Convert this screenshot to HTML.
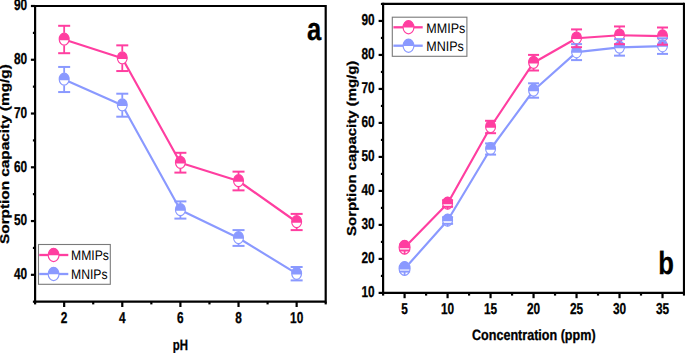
<!DOCTYPE html><html><head><meta charset="utf-8"><style>html,body{margin:0;padding:0;background:#fff;}svg{display:block;}text{font-family:"Liberation Sans",sans-serif;text-rendering:geometricPrecision;}</style></head><body>
<svg width="685" height="353" viewBox="0 0 685 353">
<rect width="685" height="353" fill="#fff"/>
<polyline points="64.16,79.50 122.28,105.20 180.40,210.00 238.52,238.00 296.64,273.70" fill="none" stroke="#8A99FF" stroke-width="2.15" stroke-linejoin="round"/>
<polyline points="64.16,39.50 122.28,58.20 180.40,162.70 238.52,181.00 296.64,222.00" fill="none" stroke="#FF3EA0" stroke-width="2.15" stroke-linejoin="round"/>
<ellipse cx="64.16" cy="39.15" rx="4.95" ry="6.0" fill="#fff"/>
<path d="M59.29,40.25 A4.95,6.0 0 1 1 69.03,40.25 Z" fill="#FF3EA0"/>
<ellipse cx="64.16" cy="39.15" rx="4.95" ry="6.0" fill="none" stroke="#FF3EA0" stroke-width="1.15"/>
<ellipse cx="122.28" cy="57.85" rx="4.95" ry="6.0" fill="#fff"/>
<path d="M117.41,58.95 A4.95,6.0 0 1 1 127.15,58.95 Z" fill="#FF3EA0"/>
<ellipse cx="122.28" cy="57.85" rx="4.95" ry="6.0" fill="none" stroke="#FF3EA0" stroke-width="1.15"/>
<ellipse cx="180.40" cy="162.35" rx="4.95" ry="6.0" fill="#fff"/>
<path d="M175.53,163.45 A4.95,6.0 0 1 1 185.27,163.45 Z" fill="#FF3EA0"/>
<ellipse cx="180.40" cy="162.35" rx="4.95" ry="6.0" fill="none" stroke="#FF3EA0" stroke-width="1.15"/>
<ellipse cx="238.52" cy="180.65" rx="4.95" ry="6.0" fill="#fff"/>
<path d="M233.65,181.75 A4.95,6.0 0 1 1 243.39,181.75 Z" fill="#FF3EA0"/>
<ellipse cx="238.52" cy="180.65" rx="4.95" ry="6.0" fill="none" stroke="#FF3EA0" stroke-width="1.15"/>
<ellipse cx="296.64" cy="221.65" rx="4.95" ry="6.0" fill="#fff"/>
<path d="M291.77,222.75 A4.95,6.0 0 1 1 301.51,222.75 Z" fill="#FF3EA0"/>
<ellipse cx="296.64" cy="221.65" rx="4.95" ry="6.0" fill="none" stroke="#FF3EA0" stroke-width="1.15"/>
<ellipse cx="64.16" cy="79.15" rx="4.95" ry="6.0" fill="#fff"/>
<path d="M59.29,80.25 A4.95,6.0 0 1 1 69.03,80.25 Z" fill="#8A99FF"/>
<ellipse cx="64.16" cy="79.15" rx="4.95" ry="6.0" fill="none" stroke="#8A99FF" stroke-width="1.15"/>
<ellipse cx="122.28" cy="104.85" rx="4.95" ry="6.0" fill="#fff"/>
<path d="M117.41,105.95 A4.95,6.0 0 1 1 127.15,105.95 Z" fill="#8A99FF"/>
<ellipse cx="122.28" cy="104.85" rx="4.95" ry="6.0" fill="none" stroke="#8A99FF" stroke-width="1.15"/>
<ellipse cx="180.40" cy="209.65" rx="4.95" ry="6.0" fill="#fff"/>
<path d="M175.53,210.75 A4.95,6.0 0 1 1 185.27,210.75 Z" fill="#8A99FF"/>
<ellipse cx="180.40" cy="209.65" rx="4.95" ry="6.0" fill="none" stroke="#8A99FF" stroke-width="1.15"/>
<ellipse cx="238.52" cy="237.65" rx="4.95" ry="6.0" fill="#fff"/>
<path d="M233.65,238.75 A4.95,6.0 0 1 1 243.39,238.75 Z" fill="#8A99FF"/>
<ellipse cx="238.52" cy="237.65" rx="4.95" ry="6.0" fill="none" stroke="#8A99FF" stroke-width="1.15"/>
<ellipse cx="296.64" cy="273.35" rx="4.95" ry="6.0" fill="#fff"/>
<path d="M291.77,274.45 A4.95,6.0 0 1 1 301.51,274.45 Z" fill="#8A99FF"/>
<ellipse cx="296.64" cy="273.35" rx="4.95" ry="6.0" fill="none" stroke="#8A99FF" stroke-width="1.15"/>
<line x1="64.16" y1="66.95" x2="64.16" y2="72.88" stroke="#8A99FF" stroke-width="1.8" stroke-linecap="butt"/>
<line x1="64.16" y1="92.05" x2="64.16" y2="85.43" stroke="#8A99FF" stroke-width="1.8" stroke-linecap="butt"/>
<line x1="58.16" y1="66.95" x2="70.16" y2="66.95" stroke="#8A99FF" stroke-width="2.0" stroke-linecap="butt"/>
<line x1="58.16" y1="92.05" x2="70.16" y2="92.05" stroke="#8A99FF" stroke-width="2.0" stroke-linecap="butt"/>
<line x1="122.28" y1="93.70" x2="122.28" y2="98.58" stroke="#8A99FF" stroke-width="1.8" stroke-linecap="butt"/>
<line x1="122.28" y1="116.70" x2="122.28" y2="111.13" stroke="#8A99FF" stroke-width="1.8" stroke-linecap="butt"/>
<line x1="116.28" y1="93.70" x2="128.28" y2="93.70" stroke="#8A99FF" stroke-width="2.0" stroke-linecap="butt"/>
<line x1="116.28" y1="116.70" x2="128.28" y2="116.70" stroke="#8A99FF" stroke-width="2.0" stroke-linecap="butt"/>
<line x1="180.40" y1="201.40" x2="180.40" y2="203.38" stroke="#8A99FF" stroke-width="1.8" stroke-linecap="butt"/>
<line x1="180.40" y1="218.60" x2="180.40" y2="215.92" stroke="#8A99FF" stroke-width="1.8" stroke-linecap="butt"/>
<line x1="174.40" y1="201.40" x2="186.40" y2="201.40" stroke="#8A99FF" stroke-width="2.0" stroke-linecap="butt"/>
<line x1="174.40" y1="218.60" x2="186.40" y2="218.60" stroke="#8A99FF" stroke-width="2.0" stroke-linecap="butt"/>
<line x1="238.52" y1="230.10" x2="238.52" y2="231.38" stroke="#8A99FF" stroke-width="1.8" stroke-linecap="butt"/>
<line x1="238.52" y1="245.90" x2="238.52" y2="243.92" stroke="#8A99FF" stroke-width="1.8" stroke-linecap="butt"/>
<line x1="232.52" y1="230.10" x2="244.52" y2="230.10" stroke="#8A99FF" stroke-width="2.0" stroke-linecap="butt"/>
<line x1="232.52" y1="245.90" x2="244.52" y2="245.90" stroke="#8A99FF" stroke-width="2.0" stroke-linecap="butt"/>
<line x1="296.64" y1="267.00" x2="296.64" y2="267.07" stroke="#8A99FF" stroke-width="1.8" stroke-linecap="butt"/>
<line x1="296.64" y1="280.40" x2="296.64" y2="279.62" stroke="#8A99FF" stroke-width="1.8" stroke-linecap="butt"/>
<line x1="290.64" y1="267.00" x2="302.64" y2="267.00" stroke="#8A99FF" stroke-width="2.0" stroke-linecap="butt"/>
<line x1="290.64" y1="280.40" x2="302.64" y2="280.40" stroke="#8A99FF" stroke-width="2.0" stroke-linecap="butt"/>
<line x1="64.16" y1="25.80" x2="64.16" y2="32.87" stroke="#FF3EA0" stroke-width="1.8" stroke-linecap="butt"/>
<line x1="64.16" y1="53.20" x2="64.16" y2="45.43" stroke="#FF3EA0" stroke-width="1.8" stroke-linecap="butt"/>
<line x1="58.16" y1="25.80" x2="70.16" y2="25.80" stroke="#FF3EA0" stroke-width="2.0" stroke-linecap="butt"/>
<line x1="58.16" y1="53.20" x2="70.16" y2="53.20" stroke="#FF3EA0" stroke-width="2.0" stroke-linecap="butt"/>
<line x1="122.28" y1="45.35" x2="122.28" y2="51.57" stroke="#FF3EA0" stroke-width="1.8" stroke-linecap="butt"/>
<line x1="122.28" y1="71.05" x2="122.28" y2="64.12" stroke="#FF3EA0" stroke-width="1.8" stroke-linecap="butt"/>
<line x1="116.28" y1="45.35" x2="128.28" y2="45.35" stroke="#FF3EA0" stroke-width="2.0" stroke-linecap="butt"/>
<line x1="116.28" y1="71.05" x2="128.28" y2="71.05" stroke="#FF3EA0" stroke-width="2.0" stroke-linecap="butt"/>
<line x1="180.40" y1="152.80" x2="180.40" y2="156.08" stroke="#FF3EA0" stroke-width="1.8" stroke-linecap="butt"/>
<line x1="180.40" y1="172.60" x2="180.40" y2="168.62" stroke="#FF3EA0" stroke-width="1.8" stroke-linecap="butt"/>
<line x1="174.40" y1="152.80" x2="186.40" y2="152.80" stroke="#FF3EA0" stroke-width="2.0" stroke-linecap="butt"/>
<line x1="174.40" y1="172.60" x2="186.40" y2="172.60" stroke="#FF3EA0" stroke-width="2.0" stroke-linecap="butt"/>
<line x1="238.52" y1="171.65" x2="238.52" y2="174.38" stroke="#FF3EA0" stroke-width="1.8" stroke-linecap="butt"/>
<line x1="238.52" y1="190.35" x2="238.52" y2="186.92" stroke="#FF3EA0" stroke-width="1.8" stroke-linecap="butt"/>
<line x1="232.52" y1="171.65" x2="244.52" y2="171.65" stroke="#FF3EA0" stroke-width="2.0" stroke-linecap="butt"/>
<line x1="232.52" y1="190.35" x2="244.52" y2="190.35" stroke="#FF3EA0" stroke-width="2.0" stroke-linecap="butt"/>
<line x1="296.64" y1="213.90" x2="296.64" y2="215.38" stroke="#FF3EA0" stroke-width="1.8" stroke-linecap="butt"/>
<line x1="296.64" y1="230.10" x2="296.64" y2="227.92" stroke="#FF3EA0" stroke-width="1.8" stroke-linecap="butt"/>
<line x1="290.64" y1="213.90" x2="302.64" y2="213.90" stroke="#FF3EA0" stroke-width="2.0" stroke-linecap="butt"/>
<line x1="290.64" y1="230.10" x2="302.64" y2="230.10" stroke="#FF3EA0" stroke-width="2.0" stroke-linecap="butt"/>
<polyline points="404.59,268.80 447.58,220.50 490.56,149.00 533.55,90.50 576.54,52.10 619.52,47.40 662.51,46.10" fill="none" stroke="#8A99FF" stroke-width="2.15" stroke-linejoin="round"/>
<polyline points="404.59,247.50 447.58,203.50 490.56,127.00 533.55,62.70 576.54,38.30 619.52,35.30 662.51,36.10" fill="none" stroke="#FF3EA0" stroke-width="2.15" stroke-linejoin="round"/>
<ellipse cx="404.59" cy="247.15" rx="5.5" ry="6.9" fill="#fff"/>
<path d="M399.16,248.25 A5.5,6.9 0 1 1 410.02,248.25 Z" fill="#FF3EA0"/>
<ellipse cx="404.59" cy="247.15" rx="5.5" ry="6.9" fill="none" stroke="#FF3EA0" stroke-width="1.15"/>
<ellipse cx="447.58" cy="203.15" rx="4.95" ry="6.0" fill="#fff"/>
<path d="M442.71,204.25 A4.95,6.0 0 1 1 452.44,204.25 Z" fill="#FF3EA0"/>
<ellipse cx="447.58" cy="203.15" rx="4.95" ry="6.0" fill="none" stroke="#FF3EA0" stroke-width="1.15"/>
<ellipse cx="490.56" cy="126.65" rx="4.95" ry="6.0" fill="#fff"/>
<path d="M485.70,127.75 A4.95,6.0 0 1 1 495.43,127.75 Z" fill="#FF3EA0"/>
<ellipse cx="490.56" cy="126.65" rx="4.95" ry="6.0" fill="none" stroke="#FF3EA0" stroke-width="1.15"/>
<ellipse cx="533.55" cy="62.35" rx="4.95" ry="6.0" fill="#fff"/>
<path d="M528.68,63.45 A4.95,6.0 0 1 1 538.42,63.45 Z" fill="#FF3EA0"/>
<ellipse cx="533.55" cy="62.35" rx="4.95" ry="6.0" fill="none" stroke="#FF3EA0" stroke-width="1.15"/>
<ellipse cx="576.54" cy="37.95" rx="4.95" ry="6.0" fill="#fff"/>
<path d="M571.67,39.05 A4.95,6.0 0 1 1 581.40,39.05 Z" fill="#FF3EA0"/>
<ellipse cx="576.54" cy="37.95" rx="4.95" ry="6.0" fill="none" stroke="#FF3EA0" stroke-width="1.15"/>
<ellipse cx="619.52" cy="34.95" rx="4.95" ry="6.0" fill="#fff"/>
<path d="M614.66,36.05 A4.95,6.0 0 1 1 624.39,36.05 Z" fill="#FF3EA0"/>
<ellipse cx="619.52" cy="34.95" rx="4.95" ry="6.0" fill="none" stroke="#FF3EA0" stroke-width="1.15"/>
<ellipse cx="662.51" cy="35.75" rx="4.95" ry="6.0" fill="#fff"/>
<path d="M657.64,36.85 A4.95,6.0 0 1 1 667.37,36.85 Z" fill="#FF3EA0"/>
<ellipse cx="662.51" cy="35.75" rx="4.95" ry="6.0" fill="none" stroke="#FF3EA0" stroke-width="1.15"/>
<ellipse cx="404.59" cy="268.45" rx="5.5" ry="6.9" fill="#fff"/>
<path d="M399.16,269.55 A5.5,6.9 0 1 1 410.02,269.55 Z" fill="#8A99FF"/>
<ellipse cx="404.59" cy="268.45" rx="5.5" ry="6.9" fill="none" stroke="#8A99FF" stroke-width="1.15"/>
<ellipse cx="447.58" cy="220.15" rx="4.95" ry="6.0" fill="#fff"/>
<path d="M442.71,221.25 A4.95,6.0 0 1 1 452.44,221.25 Z" fill="#8A99FF"/>
<ellipse cx="447.58" cy="220.15" rx="4.95" ry="6.0" fill="none" stroke="#8A99FF" stroke-width="1.15"/>
<ellipse cx="490.56" cy="148.65" rx="4.95" ry="6.0" fill="#fff"/>
<path d="M485.70,149.75 A4.95,6.0 0 1 1 495.43,149.75 Z" fill="#8A99FF"/>
<ellipse cx="490.56" cy="148.65" rx="4.95" ry="6.0" fill="none" stroke="#8A99FF" stroke-width="1.15"/>
<ellipse cx="533.55" cy="90.15" rx="4.95" ry="6.0" fill="#fff"/>
<path d="M528.68,91.25 A4.95,6.0 0 1 1 538.42,91.25 Z" fill="#8A99FF"/>
<ellipse cx="533.55" cy="90.15" rx="4.95" ry="6.0" fill="none" stroke="#8A99FF" stroke-width="1.15"/>
<ellipse cx="576.54" cy="51.75" rx="4.95" ry="6.0" fill="#fff"/>
<path d="M571.67,52.85 A4.95,6.0 0 1 1 581.40,52.85 Z" fill="#8A99FF"/>
<ellipse cx="576.54" cy="51.75" rx="4.95" ry="6.0" fill="none" stroke="#8A99FF" stroke-width="1.15"/>
<ellipse cx="619.52" cy="47.05" rx="4.95" ry="6.0" fill="#fff"/>
<path d="M614.66,48.15 A4.95,6.0 0 1 1 624.39,48.15 Z" fill="#8A99FF"/>
<ellipse cx="619.52" cy="47.05" rx="4.95" ry="6.0" fill="none" stroke="#8A99FF" stroke-width="1.15"/>
<ellipse cx="662.51" cy="45.75" rx="4.95" ry="6.0" fill="#fff"/>
<path d="M657.64,46.85 A4.95,6.0 0 1 1 667.37,46.85 Z" fill="#8A99FF"/>
<ellipse cx="662.51" cy="45.75" rx="4.95" ry="6.0" fill="none" stroke="#8A99FF" stroke-width="1.15"/>
<line x1="404.59" y1="266.00" x2="404.59" y2="261.28" stroke="#8A99FF" stroke-width="1.8" stroke-linecap="butt"/>
<line x1="404.59" y1="271.60" x2="404.59" y2="275.62" stroke="#8A99FF" stroke-width="1.8" stroke-linecap="butt"/>
<line x1="399.09" y1="266.00" x2="410.09" y2="266.00" stroke="#8A99FF" stroke-width="2.0" stroke-linecap="butt"/>
<line x1="399.09" y1="271.60" x2="410.09" y2="271.60" stroke="#8A99FF" stroke-width="2.0" stroke-linecap="butt"/>
<line x1="447.58" y1="217.20" x2="447.58" y2="213.88" stroke="#8A99FF" stroke-width="1.8" stroke-linecap="butt"/>
<line x1="447.58" y1="223.80" x2="447.58" y2="226.42" stroke="#8A99FF" stroke-width="1.8" stroke-linecap="butt"/>
<line x1="442.08" y1="217.20" x2="453.08" y2="217.20" stroke="#8A99FF" stroke-width="2.0" stroke-linecap="butt"/>
<line x1="442.08" y1="223.80" x2="453.08" y2="223.80" stroke="#8A99FF" stroke-width="2.0" stroke-linecap="butt"/>
<line x1="490.56" y1="143.40" x2="490.56" y2="142.38" stroke="#8A99FF" stroke-width="1.8" stroke-linecap="butt"/>
<line x1="490.56" y1="154.60" x2="490.56" y2="154.92" stroke="#8A99FF" stroke-width="1.8" stroke-linecap="butt"/>
<line x1="485.06" y1="143.40" x2="496.06" y2="143.40" stroke="#8A99FF" stroke-width="2.0" stroke-linecap="butt"/>
<line x1="485.06" y1="154.60" x2="496.06" y2="154.60" stroke="#8A99FF" stroke-width="2.0" stroke-linecap="butt"/>
<line x1="533.55" y1="83.30" x2="533.55" y2="83.88" stroke="#8A99FF" stroke-width="1.8" stroke-linecap="butt"/>
<line x1="533.55" y1="97.70" x2="533.55" y2="96.43" stroke="#8A99FF" stroke-width="1.8" stroke-linecap="butt"/>
<line x1="528.05" y1="83.30" x2="539.05" y2="83.30" stroke="#8A99FF" stroke-width="2.0" stroke-linecap="butt"/>
<line x1="528.05" y1="97.70" x2="539.05" y2="97.70" stroke="#8A99FF" stroke-width="2.0" stroke-linecap="butt"/>
<line x1="576.54" y1="44.10" x2="576.54" y2="45.47" stroke="#8A99FF" stroke-width="1.8" stroke-linecap="butt"/>
<line x1="576.54" y1="60.10" x2="576.54" y2="58.03" stroke="#8A99FF" stroke-width="1.8" stroke-linecap="butt"/>
<line x1="571.04" y1="44.10" x2="582.04" y2="44.10" stroke="#8A99FF" stroke-width="2.0" stroke-linecap="butt"/>
<line x1="571.04" y1="60.10" x2="582.04" y2="60.10" stroke="#8A99FF" stroke-width="2.0" stroke-linecap="butt"/>
<line x1="619.52" y1="39.15" x2="619.52" y2="40.77" stroke="#8A99FF" stroke-width="1.8" stroke-linecap="butt"/>
<line x1="619.52" y1="55.65" x2="619.52" y2="53.33" stroke="#8A99FF" stroke-width="1.8" stroke-linecap="butt"/>
<line x1="614.02" y1="39.15" x2="625.02" y2="39.15" stroke="#8A99FF" stroke-width="2.0" stroke-linecap="butt"/>
<line x1="614.02" y1="55.65" x2="625.02" y2="55.65" stroke="#8A99FF" stroke-width="2.0" stroke-linecap="butt"/>
<line x1="662.51" y1="38.30" x2="662.51" y2="39.47" stroke="#8A99FF" stroke-width="1.8" stroke-linecap="butt"/>
<line x1="662.51" y1="53.90" x2="662.51" y2="52.03" stroke="#8A99FF" stroke-width="1.8" stroke-linecap="butt"/>
<line x1="657.01" y1="38.30" x2="668.01" y2="38.30" stroke="#8A99FF" stroke-width="2.0" stroke-linecap="butt"/>
<line x1="657.01" y1="53.90" x2="668.01" y2="53.90" stroke="#8A99FF" stroke-width="2.0" stroke-linecap="butt"/>
<line x1="404.59" y1="244.50" x2="404.59" y2="239.98" stroke="#FF3EA0" stroke-width="1.8" stroke-linecap="butt"/>
<line x1="404.59" y1="250.50" x2="404.59" y2="254.32" stroke="#FF3EA0" stroke-width="1.8" stroke-linecap="butt"/>
<line x1="399.09" y1="244.50" x2="410.09" y2="244.50" stroke="#FF3EA0" stroke-width="2.0" stroke-linecap="butt"/>
<line x1="399.09" y1="250.50" x2="410.09" y2="250.50" stroke="#FF3EA0" stroke-width="2.0" stroke-linecap="butt"/>
<line x1="447.58" y1="200.20" x2="447.58" y2="196.88" stroke="#FF3EA0" stroke-width="1.8" stroke-linecap="butt"/>
<line x1="447.58" y1="206.80" x2="447.58" y2="209.42" stroke="#FF3EA0" stroke-width="1.8" stroke-linecap="butt"/>
<line x1="442.08" y1="200.20" x2="453.08" y2="200.20" stroke="#FF3EA0" stroke-width="2.0" stroke-linecap="butt"/>
<line x1="442.08" y1="206.80" x2="453.08" y2="206.80" stroke="#FF3EA0" stroke-width="2.0" stroke-linecap="butt"/>
<line x1="490.56" y1="120.80" x2="490.56" y2="120.38" stroke="#FF3EA0" stroke-width="1.8" stroke-linecap="butt"/>
<line x1="490.56" y1="133.20" x2="490.56" y2="132.92" stroke="#FF3EA0" stroke-width="1.8" stroke-linecap="butt"/>
<line x1="485.06" y1="120.80" x2="496.06" y2="120.80" stroke="#FF3EA0" stroke-width="2.0" stroke-linecap="butt"/>
<line x1="485.06" y1="133.20" x2="496.06" y2="133.20" stroke="#FF3EA0" stroke-width="2.0" stroke-linecap="butt"/>
<line x1="533.55" y1="54.90" x2="533.55" y2="56.07" stroke="#FF3EA0" stroke-width="1.8" stroke-linecap="butt"/>
<line x1="533.55" y1="70.50" x2="533.55" y2="68.62" stroke="#FF3EA0" stroke-width="1.8" stroke-linecap="butt"/>
<line x1="528.05" y1="54.90" x2="539.05" y2="54.90" stroke="#FF3EA0" stroke-width="2.0" stroke-linecap="butt"/>
<line x1="528.05" y1="70.50" x2="539.05" y2="70.50" stroke="#FF3EA0" stroke-width="2.0" stroke-linecap="butt"/>
<line x1="576.54" y1="29.40" x2="576.54" y2="31.67" stroke="#FF3EA0" stroke-width="1.8" stroke-linecap="butt"/>
<line x1="576.54" y1="47.20" x2="576.54" y2="44.23" stroke="#FF3EA0" stroke-width="1.8" stroke-linecap="butt"/>
<line x1="571.04" y1="29.40" x2="582.04" y2="29.40" stroke="#FF3EA0" stroke-width="2.0" stroke-linecap="butt"/>
<line x1="571.04" y1="47.20" x2="582.04" y2="47.20" stroke="#FF3EA0" stroke-width="2.0" stroke-linecap="butt"/>
<line x1="619.52" y1="26.45" x2="619.52" y2="28.67" stroke="#FF3EA0" stroke-width="1.8" stroke-linecap="butt"/>
<line x1="619.52" y1="44.15" x2="619.52" y2="41.23" stroke="#FF3EA0" stroke-width="1.8" stroke-linecap="butt"/>
<line x1="614.02" y1="26.45" x2="625.02" y2="26.45" stroke="#FF3EA0" stroke-width="2.0" stroke-linecap="butt"/>
<line x1="614.02" y1="44.15" x2="625.02" y2="44.15" stroke="#FF3EA0" stroke-width="2.0" stroke-linecap="butt"/>
<line x1="662.51" y1="27.50" x2="662.51" y2="29.48" stroke="#FF3EA0" stroke-width="1.8" stroke-linecap="butt"/>
<line x1="662.51" y1="44.70" x2="662.51" y2="42.03" stroke="#FF3EA0" stroke-width="1.8" stroke-linecap="butt"/>
<line x1="657.01" y1="27.50" x2="668.01" y2="27.50" stroke="#FF3EA0" stroke-width="2.0" stroke-linecap="butt"/>
<line x1="657.01" y1="44.70" x2="668.01" y2="44.70" stroke="#FF3EA0" stroke-width="2.0" stroke-linecap="butt"/>
<line x1="35.10" y1="6.00" x2="325.70" y2="6.00" stroke="#000" stroke-width="2.2" stroke-linecap="butt"/>
<line x1="35.10" y1="301.70" x2="325.70" y2="301.70" stroke="#000" stroke-width="2.2" stroke-linecap="butt"/>
<line x1="35.10" y1="4.90" x2="35.10" y2="302.80" stroke="#000" stroke-width="2.2" stroke-linecap="butt"/>
<line x1="325.70" y1="4.90" x2="325.70" y2="302.80" stroke="#000" stroke-width="2.2" stroke-linecap="butt"/>
<line x1="32.90" y1="301.70" x2="35.10" y2="301.70" stroke="#000" stroke-width="2.2" stroke-linecap="butt"/>
<line x1="30.90" y1="274.82" x2="35.10" y2="274.82" stroke="#000" stroke-width="2.2" stroke-linecap="butt"/>
<line x1="32.90" y1="247.94" x2="35.10" y2="247.94" stroke="#000" stroke-width="2.2" stroke-linecap="butt"/>
<line x1="30.90" y1="221.05" x2="35.10" y2="221.05" stroke="#000" stroke-width="2.2" stroke-linecap="butt"/>
<line x1="32.90" y1="194.17" x2="35.10" y2="194.17" stroke="#000" stroke-width="2.2" stroke-linecap="butt"/>
<line x1="30.90" y1="167.29" x2="35.10" y2="167.29" stroke="#000" stroke-width="2.2" stroke-linecap="butt"/>
<line x1="32.90" y1="140.41" x2="35.10" y2="140.41" stroke="#000" stroke-width="2.2" stroke-linecap="butt"/>
<line x1="30.90" y1="113.53" x2="35.10" y2="113.53" stroke="#000" stroke-width="2.2" stroke-linecap="butt"/>
<line x1="32.90" y1="86.65" x2="35.10" y2="86.65" stroke="#000" stroke-width="2.2" stroke-linecap="butt"/>
<line x1="30.90" y1="59.76" x2="35.10" y2="59.76" stroke="#000" stroke-width="2.2" stroke-linecap="butt"/>
<line x1="32.90" y1="32.88" x2="35.10" y2="32.88" stroke="#000" stroke-width="2.2" stroke-linecap="butt"/>
<line x1="30.90" y1="6.00" x2="35.10" y2="6.00" stroke="#000" stroke-width="2.2" stroke-linecap="butt"/>
<line x1="35.10" y1="301.70" x2="35.10" y2="304.40" stroke="#000" stroke-width="2.2" stroke-linecap="butt"/>
<line x1="64.16" y1="301.70" x2="64.16" y2="307.00" stroke="#000" stroke-width="2.2" stroke-linecap="butt"/>
<line x1="93.22" y1="301.70" x2="93.22" y2="304.40" stroke="#000" stroke-width="2.2" stroke-linecap="butt"/>
<line x1="122.28" y1="301.70" x2="122.28" y2="307.00" stroke="#000" stroke-width="2.2" stroke-linecap="butt"/>
<line x1="151.34" y1="301.70" x2="151.34" y2="304.40" stroke="#000" stroke-width="2.2" stroke-linecap="butt"/>
<line x1="180.40" y1="301.70" x2="180.40" y2="307.00" stroke="#000" stroke-width="2.2" stroke-linecap="butt"/>
<line x1="209.46" y1="301.70" x2="209.46" y2="304.40" stroke="#000" stroke-width="2.2" stroke-linecap="butt"/>
<line x1="238.52" y1="301.70" x2="238.52" y2="307.00" stroke="#000" stroke-width="2.2" stroke-linecap="butt"/>
<line x1="267.58" y1="301.70" x2="267.58" y2="304.40" stroke="#000" stroke-width="2.2" stroke-linecap="butt"/>
<line x1="296.64" y1="301.70" x2="296.64" y2="307.00" stroke="#000" stroke-width="2.2" stroke-linecap="butt"/>
<line x1="325.70" y1="301.70" x2="325.70" y2="304.40" stroke="#000" stroke-width="2.2" stroke-linecap="butt"/>
<text transform="translate(27.20,279.12) scale(0.75,1)" font-size="15.8" font-weight="bold" text-anchor="end" stroke="#000" stroke-width="0.3" fill="#000">40</text>
<text transform="translate(27.20,225.35) scale(0.75,1)" font-size="15.8" font-weight="bold" text-anchor="end" stroke="#000" stroke-width="0.3" fill="#000">50</text>
<text transform="translate(27.20,171.59) scale(0.75,1)" font-size="15.8" font-weight="bold" text-anchor="end" stroke="#000" stroke-width="0.3" fill="#000">60</text>
<text transform="translate(27.20,117.83) scale(0.75,1)" font-size="15.8" font-weight="bold" text-anchor="end" stroke="#000" stroke-width="0.3" fill="#000">70</text>
<text transform="translate(27.20,64.06) scale(0.75,1)" font-size="15.8" font-weight="bold" text-anchor="end" stroke="#000" stroke-width="0.3" fill="#000">80</text>
<text transform="translate(27.20,10.30) scale(0.75,1)" font-size="15.8" font-weight="bold" text-anchor="end" stroke="#000" stroke-width="0.3" fill="#000">90</text>
<text transform="translate(64.16,323.20) scale(0.75,1)" font-size="15.8" font-weight="bold" text-anchor="middle" stroke="#000" stroke-width="0.3" fill="#000">2</text>
<text transform="translate(122.28,323.20) scale(0.75,1)" font-size="15.8" font-weight="bold" text-anchor="middle" stroke="#000" stroke-width="0.3" fill="#000">4</text>
<text transform="translate(180.40,323.20) scale(0.75,1)" font-size="15.8" font-weight="bold" text-anchor="middle" stroke="#000" stroke-width="0.3" fill="#000">6</text>
<text transform="translate(238.52,323.20) scale(0.75,1)" font-size="15.8" font-weight="bold" text-anchor="middle" stroke="#000" stroke-width="0.3" fill="#000">8</text>
<text transform="translate(296.64,323.20) scale(0.75,1)" font-size="15.8" font-weight="bold" text-anchor="middle" stroke="#000" stroke-width="0.3" fill="#000">10</text>
<text transform="translate(180.30,349.50) scale(0.76,1)" font-size="15" font-weight="bold" text-anchor="middle" stroke="#000" stroke-width="0.3" fill="#000">pH</text>
<text transform="translate(9.3,154.1) scale(0.85,1) rotate(-90)" font-size="15" font-weight="bold" stroke="#000" stroke-width="0.3" text-anchor="middle" textLength="179.7" lengthAdjust="spacingAndGlyphs">Sorption capacity (mg/g)</text>
<text transform="translate(314.00,39.80) scale(0.8,1)" font-size="32" font-weight="bold" text-anchor="middle" stroke="#000" stroke-width="0.3" fill="#000">a</text>
<line x1="383.10" y1="3.95" x2="684.00" y2="3.95" stroke="#000" stroke-width="2.2" stroke-linecap="butt"/>
<line x1="383.10" y1="292.90" x2="684.00" y2="292.90" stroke="#000" stroke-width="2.2" stroke-linecap="butt"/>
<line x1="383.10" y1="2.85" x2="383.10" y2="294.00" stroke="#000" stroke-width="2.2" stroke-linecap="butt"/>
<line x1="684.00" y1="2.85" x2="684.00" y2="294.00" stroke="#000" stroke-width="2.2" stroke-linecap="butt"/>
<line x1="378.60" y1="292.90" x2="383.10" y2="292.90" stroke="#000" stroke-width="2.2" stroke-linecap="butt"/>
<line x1="380.90" y1="275.90" x2="383.10" y2="275.90" stroke="#000" stroke-width="2.2" stroke-linecap="butt"/>
<line x1="378.60" y1="258.91" x2="383.10" y2="258.91" stroke="#000" stroke-width="2.2" stroke-linecap="butt"/>
<line x1="380.90" y1="241.91" x2="383.10" y2="241.91" stroke="#000" stroke-width="2.2" stroke-linecap="butt"/>
<line x1="378.60" y1="224.91" x2="383.10" y2="224.91" stroke="#000" stroke-width="2.2" stroke-linecap="butt"/>
<line x1="380.90" y1="207.91" x2="383.10" y2="207.91" stroke="#000" stroke-width="2.2" stroke-linecap="butt"/>
<line x1="378.60" y1="190.92" x2="383.10" y2="190.92" stroke="#000" stroke-width="2.2" stroke-linecap="butt"/>
<line x1="380.90" y1="173.92" x2="383.10" y2="173.92" stroke="#000" stroke-width="2.2" stroke-linecap="butt"/>
<line x1="378.60" y1="156.92" x2="383.10" y2="156.92" stroke="#000" stroke-width="2.2" stroke-linecap="butt"/>
<line x1="380.90" y1="139.93" x2="383.10" y2="139.93" stroke="#000" stroke-width="2.2" stroke-linecap="butt"/>
<line x1="378.60" y1="122.93" x2="383.10" y2="122.93" stroke="#000" stroke-width="2.2" stroke-linecap="butt"/>
<line x1="380.90" y1="105.93" x2="383.10" y2="105.93" stroke="#000" stroke-width="2.2" stroke-linecap="butt"/>
<line x1="378.60" y1="88.94" x2="383.10" y2="88.94" stroke="#000" stroke-width="2.2" stroke-linecap="butt"/>
<line x1="380.90" y1="71.94" x2="383.10" y2="71.94" stroke="#000" stroke-width="2.2" stroke-linecap="butt"/>
<line x1="378.60" y1="54.94" x2="383.10" y2="54.94" stroke="#000" stroke-width="2.2" stroke-linecap="butt"/>
<line x1="380.90" y1="37.94" x2="383.10" y2="37.94" stroke="#000" stroke-width="2.2" stroke-linecap="butt"/>
<line x1="378.60" y1="20.95" x2="383.10" y2="20.95" stroke="#000" stroke-width="2.2" stroke-linecap="butt"/>
<line x1="380.90" y1="3.95" x2="383.10" y2="3.95" stroke="#000" stroke-width="2.2" stroke-linecap="butt"/>
<line x1="383.10" y1="292.90" x2="383.10" y2="295.60" stroke="#000" stroke-width="2.2" stroke-linecap="butt"/>
<line x1="426.09" y1="292.90" x2="426.09" y2="295.60" stroke="#000" stroke-width="2.2" stroke-linecap="butt"/>
<line x1="469.07" y1="292.90" x2="469.07" y2="295.60" stroke="#000" stroke-width="2.2" stroke-linecap="butt"/>
<line x1="512.06" y1="292.90" x2="512.06" y2="295.60" stroke="#000" stroke-width="2.2" stroke-linecap="butt"/>
<line x1="555.04" y1="292.90" x2="555.04" y2="295.60" stroke="#000" stroke-width="2.2" stroke-linecap="butt"/>
<line x1="598.03" y1="292.90" x2="598.03" y2="295.60" stroke="#000" stroke-width="2.2" stroke-linecap="butt"/>
<line x1="641.01" y1="292.90" x2="641.01" y2="295.60" stroke="#000" stroke-width="2.2" stroke-linecap="butt"/>
<line x1="684.00" y1="292.90" x2="684.00" y2="295.60" stroke="#000" stroke-width="2.2" stroke-linecap="butt"/>
<line x1="404.59" y1="292.90" x2="404.59" y2="298.20" stroke="#000" stroke-width="2.2" stroke-linecap="butt"/>
<line x1="447.58" y1="292.90" x2="447.58" y2="298.20" stroke="#000" stroke-width="2.2" stroke-linecap="butt"/>
<line x1="490.56" y1="292.90" x2="490.56" y2="298.20" stroke="#000" stroke-width="2.2" stroke-linecap="butt"/>
<line x1="533.55" y1="292.90" x2="533.55" y2="298.20" stroke="#000" stroke-width="2.2" stroke-linecap="butt"/>
<line x1="576.54" y1="292.90" x2="576.54" y2="298.20" stroke="#000" stroke-width="2.2" stroke-linecap="butt"/>
<line x1="619.52" y1="292.90" x2="619.52" y2="298.20" stroke="#000" stroke-width="2.2" stroke-linecap="butt"/>
<line x1="662.51" y1="292.90" x2="662.51" y2="298.20" stroke="#000" stroke-width="2.2" stroke-linecap="butt"/>
<text transform="translate(374.70,297.30) scale(0.75,1)" font-size="15.8" font-weight="bold" text-anchor="end" stroke="#000" stroke-width="0.3" fill="#000">10</text>
<text transform="translate(374.70,263.31) scale(0.75,1)" font-size="15.8" font-weight="bold" text-anchor="end" stroke="#000" stroke-width="0.3" fill="#000">20</text>
<text transform="translate(374.70,229.31) scale(0.75,1)" font-size="15.8" font-weight="bold" text-anchor="end" stroke="#000" stroke-width="0.3" fill="#000">30</text>
<text transform="translate(374.70,195.32) scale(0.75,1)" font-size="15.8" font-weight="bold" text-anchor="end" stroke="#000" stroke-width="0.3" fill="#000">40</text>
<text transform="translate(374.70,161.32) scale(0.75,1)" font-size="15.8" font-weight="bold" text-anchor="end" stroke="#000" stroke-width="0.3" fill="#000">50</text>
<text transform="translate(374.70,127.33) scale(0.75,1)" font-size="15.8" font-weight="bold" text-anchor="end" stroke="#000" stroke-width="0.3" fill="#000">60</text>
<text transform="translate(374.70,93.34) scale(0.75,1)" font-size="15.8" font-weight="bold" text-anchor="end" stroke="#000" stroke-width="0.3" fill="#000">70</text>
<text transform="translate(374.70,59.34) scale(0.75,1)" font-size="15.8" font-weight="bold" text-anchor="end" stroke="#000" stroke-width="0.3" fill="#000">80</text>
<text transform="translate(374.70,25.35) scale(0.75,1)" font-size="15.8" font-weight="bold" text-anchor="end" stroke="#000" stroke-width="0.3" fill="#000">90</text>
<text transform="translate(404.59,314.10) scale(0.75,1)" font-size="15.8" font-weight="bold" text-anchor="middle" stroke="#000" stroke-width="0.3" fill="#000">5</text>
<text transform="translate(447.58,314.10) scale(0.75,1)" font-size="15.8" font-weight="bold" text-anchor="middle" stroke="#000" stroke-width="0.3" fill="#000">10</text>
<text transform="translate(490.56,314.10) scale(0.75,1)" font-size="15.8" font-weight="bold" text-anchor="middle" stroke="#000" stroke-width="0.3" fill="#000">15</text>
<text transform="translate(533.55,314.10) scale(0.75,1)" font-size="15.8" font-weight="bold" text-anchor="middle" stroke="#000" stroke-width="0.3" fill="#000">20</text>
<text transform="translate(576.54,314.10) scale(0.75,1)" font-size="15.8" font-weight="bold" text-anchor="middle" stroke="#000" stroke-width="0.3" fill="#000">25</text>
<text transform="translate(619.52,314.10) scale(0.75,1)" font-size="15.8" font-weight="bold" text-anchor="middle" stroke="#000" stroke-width="0.3" fill="#000">30</text>
<text transform="translate(662.51,314.10) scale(0.75,1)" font-size="15.8" font-weight="bold" text-anchor="middle" stroke="#000" stroke-width="0.3" fill="#000">35</text>
<text transform="translate(533.80,340.00) scale(0.838,1)" font-size="15" font-weight="bold" text-anchor="middle" stroke="#000" stroke-width="0.3" fill="#000">Concentration (ppm)</text>
<text transform="translate(356.0,148.3) scale(0.86,1) rotate(-90)" font-size="15" font-weight="bold" stroke="#000" stroke-width="0.3" text-anchor="middle" textLength="175.3" lengthAdjust="spacingAndGlyphs">Sorption capacity (mg/g)</text>
<text transform="translate(666.00,274.10) scale(0.8,1)" font-size="32" font-weight="bold" text-anchor="middle" stroke="#000" stroke-width="0.3" fill="#000">b</text>
<rect x="38.5" y="244.5" width="71.8" height="39.80000000000001" fill="#fff" stroke="#7a7a7a" stroke-width="1.1"/>
<line x1="39.20" y1="255.00" x2="68.30" y2="255.00" stroke="#FF3EA0" stroke-width="2.3" stroke-linecap="butt"/>
<ellipse cx="53.60" cy="255.00" rx="5.4" ry="6.6" fill="#fff"/>
<path d="M48.21,255.30 A5.4,6.6 0 1 1 58.99,255.30 Z" fill="#FF3EA0"/>
<ellipse cx="53.60" cy="255.00" rx="5.4" ry="6.6" fill="none" stroke="#FF3EA0" stroke-width="1.15"/>
<line x1="39.20" y1="274.00" x2="68.30" y2="274.00" stroke="#8A99FF" stroke-width="2.3" stroke-linecap="butt"/>
<ellipse cx="53.60" cy="274.00" rx="5.4" ry="6.6" fill="#fff"/>
<path d="M48.21,274.30 A5.4,6.6 0 1 1 58.99,274.30 Z" fill="#8A99FF"/>
<ellipse cx="53.60" cy="274.00" rx="5.4" ry="6.6" fill="none" stroke="#8A99FF" stroke-width="1.15"/>
<text transform="translate(71.00,259.90) scale(0.87,1)" font-size="14" font-weight="normal" text-anchor="start" fill="#000">MMIPs</text>
<text transform="translate(71.00,279.10) scale(0.87,1)" font-size="14" font-weight="normal" text-anchor="start" fill="#000">MNIPs</text>
<rect x="392.3" y="17.2" width="74.59999999999997" height="39.099999999999994" fill="#fff" stroke="#7a7a7a" stroke-width="1.1"/>
<line x1="393.40" y1="27.30" x2="422.70" y2="27.30" stroke="#FF3EA0" stroke-width="2.3" stroke-linecap="butt"/>
<ellipse cx="408.50" cy="27.30" rx="5.4" ry="6.6" fill="#fff"/>
<path d="M403.11,27.60 A5.4,6.6 0 1 1 413.89,27.60 Z" fill="#FF3EA0"/>
<ellipse cx="408.50" cy="27.30" rx="5.4" ry="6.6" fill="none" stroke="#FF3EA0" stroke-width="1.15"/>
<line x1="393.40" y1="45.70" x2="422.70" y2="45.70" stroke="#8A99FF" stroke-width="2.3" stroke-linecap="butt"/>
<ellipse cx="408.50" cy="45.70" rx="5.4" ry="6.6" fill="#fff"/>
<path d="M403.11,46.00 A5.4,6.6 0 1 1 413.89,46.00 Z" fill="#8A99FF"/>
<ellipse cx="408.50" cy="45.70" rx="5.4" ry="6.6" fill="none" stroke="#8A99FF" stroke-width="1.15"/>
<text transform="translate(426.30,32.60) scale(0.895,1)" font-size="14" font-weight="normal" text-anchor="start" fill="#000">MMIPs</text>
<text transform="translate(426.30,51.10) scale(0.895,1)" font-size="14" font-weight="normal" text-anchor="start" fill="#000">MNIPs</text>
</svg></body></html>
